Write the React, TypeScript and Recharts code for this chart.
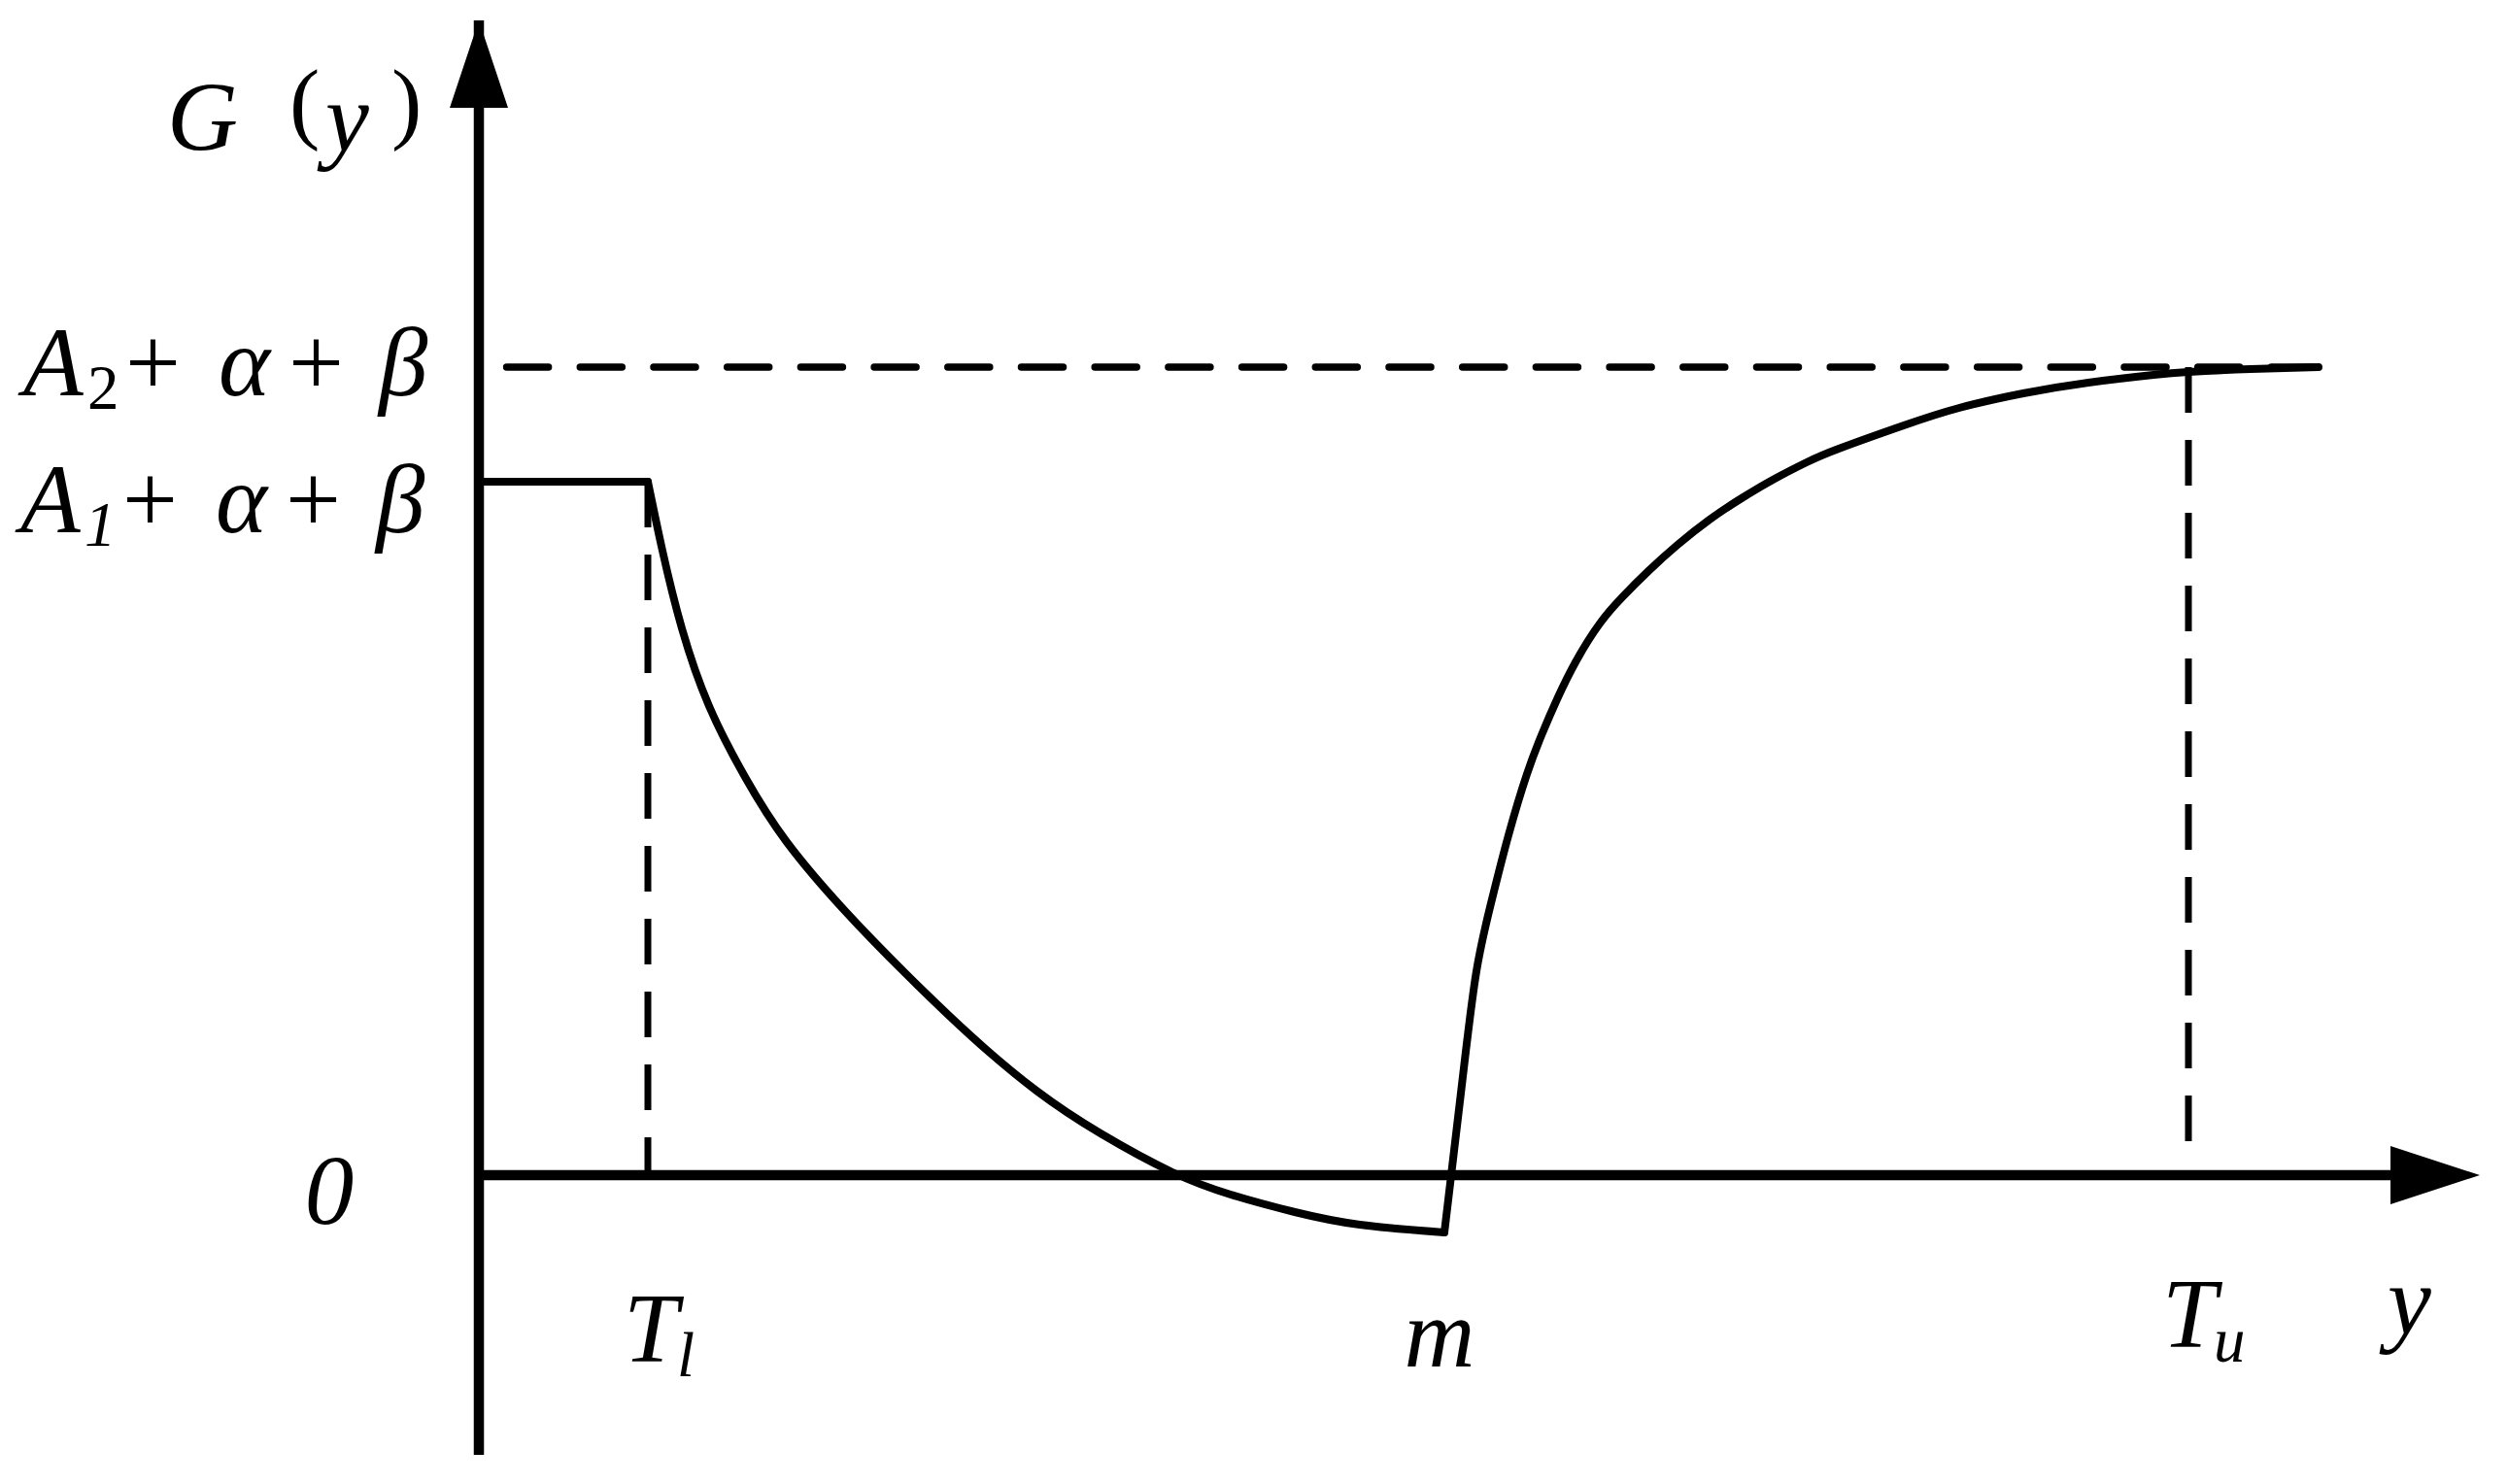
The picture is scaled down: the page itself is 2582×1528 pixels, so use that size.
import React from 'react';
import { ComposedChart, Line, XAxis, YAxis, ReferenceLine, ReferenceDot } from 'recharts';

// ---- data (arbitrary units of the schematic) ----
const A1 = 7.14; // A1 + α + β
const A2 = 8.32; // A2 + α + β
const Tl = 1.74;
const M = 9.94;
const Tu = 17.6;
const yEnd = 18.94;

const plateauX = [0, Tl];
const plateauG = [A1, A1];

const decayX = [1.74, 1.89, 2.09, 2.37, 2.74, 3.17, 3.77, 4.4, 5.07, 5.74, 6.4, 7.14, 7.74, 8.4, 9.07, 9.94];
const decayG = [7.14, 6.43, 5.63, 4.83, 4.1, 3.43, 2.72, 2.07, 1.43, 0.87, 0.43, 0.03, -0.2, -0.38, -0.51, -0.59];

const riseX = [9.94, 10.01, 10.14, 10.27, 10.42, 10.6, 10.79, 10.94, 11.1, 11.3, 11.54, 11.77, 12.04, 12.34, 12.67, 13.0, 13.34, 13.67, 14.0, 14.67, 15.24, 15.9, 16.57, 17.24, 17.6, 18.24, 18.94];
const riseG = [-0.59, 0.0, 1.1, 2.1, 2.8, 3.5, 4.13, 4.53, 4.9, 5.3, 5.68, 5.95, 6.22, 6.49, 6.75, 6.97, 7.17, 7.34, 7.48, 7.72, 7.9, 8.05, 8.16, 8.24, 8.27, 8.3, 8.32];

const xTicks = [Tl, M, Tu];
const xTickLabels = [
  { base: 'T', sub: 'l' },
  { base: 'm', sub: '' },
  { base: 'T', sub: 'u' },
];
const yTicks = [0, A1, A2];
const yTickLabels = [
  { base: '0', sub: '' },
  { base: 'A', sub: '1' },
  { base: 'A', sub: '2' },
];
const yTail = ['+', 'α', '+', 'β'];

const xDomain = [0, 20.6];
const yDomain = [-2.88, 11.89];

const toRows = (xs: number[], gs: number[]) => xs.map((x, i) => ({ x, g: gs[i] }));
const plateau = toRows(plateauX, plateauG);
const decay = toRows(decayX, decayG);
const rise = toRows(riseX, riseG);

const serif = '"Liberation Serif", "Times New Roman", serif';
const FS = 101;
const SUB = 65;

function YTick(props: any) {
  const { y, payload, index } = props;
  const lab = yTickLabels[index] || yTickLabels[yTicks.indexOf(payload.value)];
  if (!lab) return null;
  if (!lab.sub) {
    return (
      <text x={339} y={y + 50} textAnchor="middle" fontFamily={serif} fontStyle="italic" fontSize={FS} fill="#000">
        {lab.base}
      </text>
    );
  }
  const isTwo = lab.sub === '2';
  const L = isTwo ? 24 : 21;
  const base = y + (isTwo ? 29 : 52);
  return (
    <text fontFamily={serif} fontSize={FS} fill="#000">
      <tspan x={L} y={base} fontStyle="italic">{lab.base}</tspan>
      <tspan x={L + 66} y={base + 14} fontSize={SUB} fontStyle={isTwo ? 'normal' : 'italic'}>{lab.sub}</tspan>
      <tspan x={L + 105} y={base} fontStyle="normal">{yTail[0]}</tspan>
      <tspan x={L + 201} y={base} fontStyle="italic">{yTail[1]}</tspan>
      <tspan x={L + 273} y={base} fontStyle="normal">{yTail[2]}</tspan>
      <tspan x={L + 366} y={base} fontStyle="italic">{yTail[3]}</tspan>
    </text>
  );
}

function XTick(props: any) {
  const { x, y, payload, index } = props;
  const lab = xTickLabels[index] || xTickLabels[xTicks.indexOf(payload.value)];
  if (!lab) return null;
  if (!lab.sub) {
    return (
      <text x={x - 5} y={y - 91} textAnchor="middle" fontFamily={serif} fontStyle="italic" fontSize={FS} fill="#000">
        {lab.base}
      </text>
    );
  }
  const isL = lab.sub === 'l';
  const base = y - (isL ? 96 : 111);
  const L = x - (isL ? 25 : 27);
  return (
    <text fontFamily={serif} fontSize={FS} fontStyle="italic" fill="#000">
      <tspan x={L} y={base}>{lab.base}</tspan>
      <tspan x={L + (isL ? 55 : 53)} y={base + 15} fontSize={SUB}>{lab.sub}</tspan>
    </text>
  );
}

const YName = (props: any) => {
  const vb = props.viewBox || { x: 0, y: 21 };
  const b = vb.y + 134;
  return (
    <text fill="#000" fontFamily={serif} fontSize={FS}>
      <tspan x={172} y={b} fontStyle="italic">G</tspan>
      <tspan x={298} y={b - 19} fontSize={94}>(</tspan>
      <tspan x={335} y={b} fontStyle="italic">y</tspan>
      <tspan x={403} y={b - 19} fontSize={94}>)</tspan>
    </text>
  );
};

const XName = (props: any) => {
  const vb = props.viewBox || { x: 493, y: 1498, width: 2060 };
  return (
    <text x={vb.x + vb.width - 95} y={vb.y - 125} fill="#000" fontFamily={serif} fontStyle="italic" fontSize={FS}>
      y
    </text>
  );
};

const ArrowRight = (p: any) => (
  <polygon points={`${p.cx},${p.cy} ${p.cx - 92},${p.cy - 30} ${p.cx - 92},${p.cy + 30}`} fill="#000" />
);
const ArrowUp = (p: any) => (
  <polygon points={`${p.cx},${p.cy} ${p.cx - 30},${p.cy + 90} ${p.cx + 30},${p.cy + 90}`} fill="#000" />
);

export default function App() {
  return (
    <div style={{ position: 'absolute', left: 0, top: 0, background: '#fff' }}>
      <ComposedChart width={2582} height={1528} margin={{ top: 21, right: 29, bottom: 0, left: 0 }}>
        <XAxis
          type="number"
          dataKey="x"
          domain={xDomain}
          ticks={xTicks}
          interval={0}
          allowDataOverflow
          axisLine={false}
          tickLine={false}
          tickSize={0}
          tickMargin={0}
          height={30}
          tick={<XTick />}
          label={{ content: <XName /> }}
        />
        <YAxis
          type="number"
          domain={yDomain}
          ticks={yTicks}
          interval={0}
          allowDataOverflow
          width={493}
          axisLine={{ stroke: '#000', strokeWidth: 10.5 }}
          tickLine={false}
          tickSize={0}
          tickMargin={0}
          tick={<YTick />}
          label={{ content: <YName /> }}
        />
        <ReferenceLine segment={[{ x: 0, y: 0 }, { x: 19.9, y: 0 }]} stroke="#000" strokeWidth={10.5} />
        <ReferenceLine
          segment={[{ x: 0.286, y: A2 }, { x: 18.9, y: A2 }]}
          stroke="#000"
          strokeWidth={7.5}
          strokeDasharray="43 32.7"
          strokeLinecap="round"
        />
        <ReferenceLine segment={[{ x: Tl, y: A1 }, { x: Tl, y: 0 }]} stroke="#000" strokeWidth={7} strokeDasharray="47 28" />
        <ReferenceLine segment={[{ x: Tu, y: A2 }, { x: Tu, y: 0.3 }]} stroke="#000" strokeWidth={7} strokeDasharray="47 28" />
        <Line data={plateau} dataKey="g" type="linear" stroke="#000" strokeWidth={8} strokeLinecap="round" dot={false} isAnimationActive={false} />
        <Line data={decay} dataKey="g" type="natural" stroke="#000" strokeWidth={8} strokeLinecap="round" dot={false} isAnimationActive={false} />
        <Line data={rise} dataKey="g" type="natural" stroke="#000" strokeWidth={8} strokeLinecap="round" dot={false} isAnimationActive={false} />
        <ReferenceDot x={xDomain[1]} y={0} r={0} shape={ArrowRight} />
        <ReferenceDot x={0} y={yDomain[1]} r={0} shape={ArrowUp} />
      </ComposedChart>
    </div>
  );
}
